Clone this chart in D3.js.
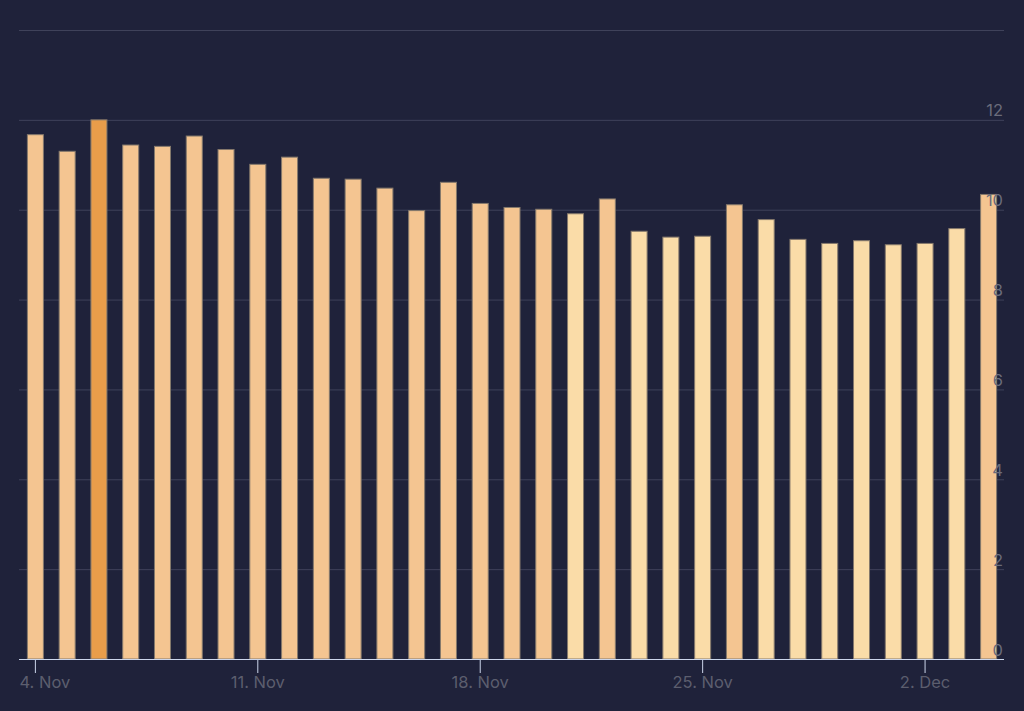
<!DOCTYPE html>
<html>
<head>
<meta charset="utf-8">
<script src="https://cdn.jsdelivr.net/npm/d3@7"></script>
<style>
  html, body { margin: 0; padding: 0; background: #1f223a; }
  svg { display: block; }
</style>
</head>
<body>
<svg id="chart" width="1024" height="711"></svg>
<script>
// Data
const dates = ["2024-11-04","2024-11-05","2024-11-06","2024-11-07","2024-11-08","2024-11-09","2024-11-10",
  "2024-11-11","2024-11-12","2024-11-13","2024-11-14","2024-11-15","2024-11-16","2024-11-17",
  "2024-11-18","2024-11-19","2024-11-20","2024-11-21","2024-11-22","2024-11-23","2024-11-24",
  "2024-11-25","2024-11-26","2024-11-27","2024-11-28","2024-11-29","2024-11-30","2024-12-01",
  "2024-12-02","2024-12-03","2024-12-04"];
const values = [11.67, 11.30, 12.00, 11.44, 11.41, 11.64, 11.34,
  11.01, 11.17, 10.70, 10.68, 10.48, 9.98, 10.61,
  10.14, 10.05, 10.01, 9.91, 10.24, 9.52, 9.39,
  9.41, 10.11, 9.78, 9.34, 9.25, 9.31, 9.22,
  9.25, 9.58, 10.34];
// shade category per bar: "mid", "high", "low"
const shades = ["mid","mid","high","mid","mid","mid","mid",
  "mid","mid","mid","mid","mid","mid","mid",
  "mid","mid","mid","low","mid","low","low",
  "low","mid","low","low","low","low","low",
  "low","low","mid"];
const yTicks = [0, 2, 4, 6, 8, 10, 12, 14];
const yLabels = ["0", "2", "4", "6", "8", "10", "12", ""];
const xTickDates = ["2024-11-04","2024-11-11","2024-11-18","2024-11-25","2024-12-02"];
const xTickLabels = ["4. Nov","11. Nov","18. Nov","25. Nov","2. Dec"];

(function () {
const colors = { mid: "#f4c591", high: "#e99d4a", low: "#fadca8" };

const parse = d3.utcParse("%Y-%m-%d");
const data = dates.map((d, i) => ({ date: parse(d), value: values[i], shade: shades[i] }));

const pLeft = 19, pRight = 1004, pTop = 30, pBottom = 659;
const svg = d3.select("#chart");
svg.append("rect").attr("width", 1024).attr("height", 711).attr("fill", "#1f223a");

const halfDay = 12 * 3600 * 1000;
const x = d3.scaleUtc()
  .domain([new Date(+data[0].date - halfDay), new Date(+data[data.length - 1].date + halfDay)])
  .range([pLeft, pRight]);
const y = d3.scaleLinear().domain([0, 14]).range([pBottom, pTop]);

const font = "Inter, 'Noto Sans', sans-serif";

// gridlines
const grid = svg.append("g")
  .attr("transform", `translate(${pLeft},0)`)
  .call(d3.axisRight(y).tickValues(yTicks).tickSize(pRight - pLeft).tickFormat(""));
grid.select(".domain").remove();
grid.selectAll(".tick line").attr("stroke", "#3f425a").attr("stroke-width", 1);

// bars
const barW = 16;
svg.append("g").selectAll("rect")
  .data(data)
  .join("rect")
  .attr("x", d => x(d.date) - barW / 2 + 0.5)
  .attr("y", d => y(d.value))
  .attr("width", barW)
  .attr("height", d => y(0) - y(d.value))
  .attr("fill", d => colors[d.shade])
  .attr("stroke", "#85796c")
  .attr("stroke-width", 1);

// x axis
const xAxis = svg.append("g")
  .attr("transform", `translate(0,${pBottom})`)
  .call(d3.axisBottom(x)
    .tickValues(xTickDates.map(parse))
    .tickSize(14)
    .tickPadding(2)
    .tickFormat((d, i) => xTickLabels[i]));
xAxis.select(".domain").attr("stroke", "#ccd6eb").attr("d", `M${pLeft},0.5H${pRight}`);
xAxis.selectAll(".tick line").attr("stroke", "#ccd6eb").attr("stroke-width", 1);
xAxis.selectAll(".tick text")
  .attr("fill", "#5c5e6e")
  .attr("font-family", font)
  .attr("font-size", 16.5)
  .attr("dy", "0.71em")
  .attr("y", 17);
// justify first label to the left edge
xAxis.selectAll(".tick text").filter((d, i) => i === 0)
  .attr("text-anchor", "start")
  .attr("x", pLeft - x(parse(xTickDates[0])));

// y labels (drawn above bars)
const yAxis = svg.append("g")
  .attr("transform", `translate(${pRight},0)`)
  .call(d3.axisLeft(y).tickValues(yTicks).tickSize(0).tickPadding(0)
    .tickFormat((d, i) => yLabels[i]));
yAxis.select(".domain").remove();
yAxis.selectAll(".tick text")
  .attr("fill", "#6a6c7b")
  .attr("font-family", font)
  .attr("font-size", 16.5)
  .attr("dy", "-4")
  .attr("x", -1)
  .attr("text-anchor", "end");
})();
</script>
</body>
</html>
